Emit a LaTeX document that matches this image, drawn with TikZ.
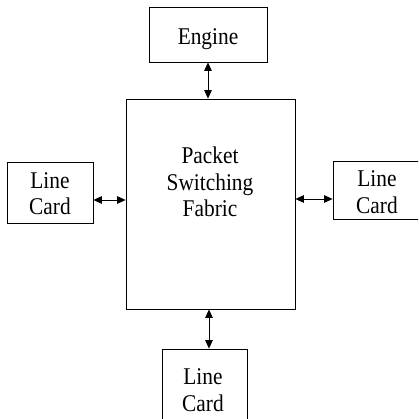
\documentclass[tikz,border=0pt]{standalone}
\usepackage{fontspec}
\setmainfont{Liberation Serif}[FakeStretch=0.89]
\usetikzlibrary{arrows.meta}
\begin{document}
\begin{tikzpicture}[x=1pt,y=-1pt,
  blockbox/.style={draw,line width=0.8pt,inner sep=0pt},
  lbl/.style={font=\fontsize{24}{26.5}\selectfont,align=center,inner sep=0pt,text depth=0pt},
  conn/.style={line width=0.7pt,{Triangle[length=8.5pt,width=7.5pt]}-{Triangle[length=8.5pt,width=7.5pt]}}]
  \clip (0,0) rectangle (418,419);
  % blocks
  \node[blockbox,minimum width=118pt,minimum height=55pt] (engine) at (208,34.5) {};
  \node[blockbox,minimum width=169pt,minimum height=210pt] (fabric) at (210.5,204) {};
  \node[blockbox,minimum width=86pt,minimum height=61pt] (lcleft) at (50,192.5) {};
  \node[blockbox,minimum width=97pt,minimum height=58pt] (lcright) at (381.5,190) {};
  \node[blockbox,minimum width=85pt,minimum height=81pt] (lcbottom) at (204.5,389.5) {};
  % labels
  \node[lbl] (engtext) at (208,36.5) {Engine};
  \node[lbl] (fabtext) at (210,182) {Packet\\Switching\\Fabric};
  \node[lbl] (lctextl) at (50,193.5) {Line\\Card};
  \node[lbl] (lctextr) at (377,192) {Line\\Card};
  \node[lbl] (lctextb) at (203,390) {Line\\Card};
  % links
  \draw[conn] (engine.south) -- (engine.south |- fabric.north);
  \draw[conn] ([yshift=-7.5pt]lcleft.east) -- ([yshift=-7.5pt]lcleft.east -| fabric.west);
  \draw[conn] ([yshift=-9pt]lcright.west) -- ([yshift=-9pt]lcright.west -| fabric.east);
  \draw[conn] ([xshift=4.5pt]lcbottom.north) -- ([xshift=4.5pt]lcbottom.north |- fabric.south);
\end{tikzpicture}
\end{document}
